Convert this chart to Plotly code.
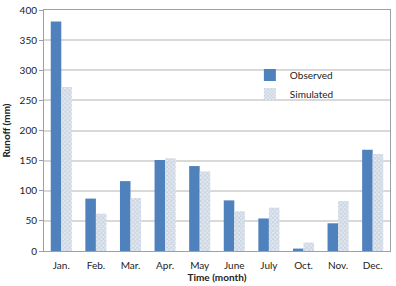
import plotly.graph_objects as go

months = ["Jan.", "Feb.", "Mar.", "Apr.", "May", "June", "July", "Oct.", "Nov.", "Dec."]
observed = [381, 87, 116, 151, 141, 84, 54, 4, 46, 168]
simulated = [272, 62, 88, 154, 132, 66, 72, 14, 83, 161]
y_ticks = [0, 50, 100, 150, 200, 250, 300, 350, 400]

fig = go.Figure()
fig.add_trace(go.Bar(x=months, y=observed, name="Observed",
                     marker=dict(color="#4F81BD", line=dict(width=0))))
fig.add_trace(go.Bar(x=months, y=simulated, name="Simulated",
                     marker=dict(color="#e4eaf1", line=dict(width=0),
                                 pattern=dict(shape="x", fgcolor="#a8b8cb", size=3, solidity=0.5))))

fig.update_layout(
    width=396, height=286,
    margin=dict(l=44, r=6, t=10, b=35),
    paper_bgcolor="white", plot_bgcolor="white",
    barmode="group", bargap=0.39, bargroupgap=0,
    font=dict(family="Lato, Liberation Sans, sans-serif", size=10, color="#222"),
    legend=dict(x=0.595, y=0.79, xanchor="left", yanchor="top",
                bgcolor="rgba(0,0,0,0)", font=dict(size=10),
                itemwidth=30, tracegroupgap=0),
    xaxis=dict(title=dict(text="<b>Time (month)</b>", font=dict(size=10), standoff=2),
               showline=True, linecolor="#a0a0a0", mirror=True,
               ticks="outside", ticklen=5, tickcolor="rgba(0,0,0,0)",
               showgrid=False, automargin=False),
    yaxis=dict(title=dict(text="<b>Runoff (mm)</b>", font=dict(size=10), standoff=8),
               range=[0, 400], tickvals=y_ticks,
               showline=True, linecolor="#a0a0a0", mirror=True,
               ticks="outside", ticklen=4, tickcolor="#a0a0a0",
               gridcolor="#d9d9d9", gridwidth=1.5, zeroline=False, automargin=False),
    showlegend=True,
)

fig.write_html("out.html", config={"displayModeBar": False},
               post_script="document.body.style.margin='0';document.body.style.padding='0';")
